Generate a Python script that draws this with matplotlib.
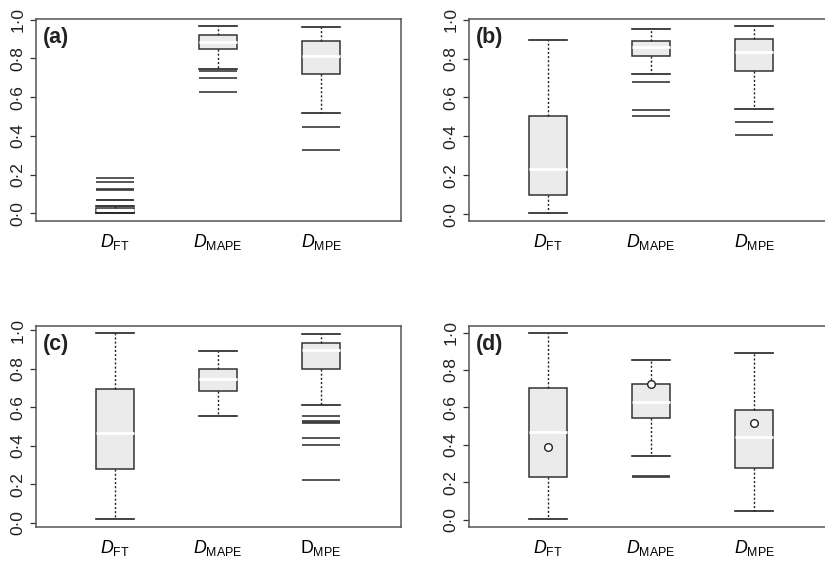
import matplotlib.pyplot as plt

plt.rcParams['font.family'] = ['Liberation Sans', 'DejaVu Sans']
plt.rcParams['mathtext.fontset'] = 'custom'
plt.rcParams['mathtext.rm'] = 'Liberation Sans'
plt.rcParams['mathtext.it'] = 'Liberation Sans:italic'

# x labels (subscripts) and y ticks
subs = ['FT', 'MAPE', 'MPE']
yticks = [0.0, 0.2, 0.4, 0.6, 0.8, 1.0]
ytick_labels = ['0\u00b70', '0\u00b72', '0\u00b74', '0\u00b76', '0\u00b78', '1\u00b70']
tags = ['(a)', '(b)', '(c)', '(d)']

# panel (a)
lo_a = [0.000, 0.745, 0.517]
q1_a = [0.003, 0.848, 0.719]
med_a = [0.016, 0.883, 0.814]
q3_a = [0.027, 0.919, 0.888]
hi_a = [0.035, 0.966, 0.962]
out_a = [[0.039, 0.066, 0.069, 0.118, 0.124, 0.159, 0.184],
         [0.628, 0.698, 0.736],
         [0.328, 0.445]]

# panel (b)
lo_b = [0.009, 0.722, 0.540]
q1_b = [0.099, 0.811, 0.738]
med_b = [0.232, 0.859, 0.832]
q3_b = [0.503, 0.890, 0.900]
hi_b = [0.894, 0.952, 0.967]
out_b = [[], [0.506, 0.535, 0.681], [0.408, 0.472]]

# panel (c)
lo_c = [0.021, 0.555, 0.612]
q1_c = [0.279, 0.683, 0.800]
med_c = [0.466, 0.747, 0.897]
q3_c = [0.693, 0.797, 0.936]
hi_c = [0.986, 0.893, 0.979]
out_c = [[], [], [0.223, 0.403, 0.439, 0.517, 0.523, 0.528, 0.554]]

# panel (d)
lo_d = [0.004, 0.339, 0.048]
q1_d = [0.226, 0.544, 0.275]
med_d = [0.467, 0.631, 0.444]
q3_d = [0.702, 0.726, 0.588]
hi_d = [0.998, 0.851, 0.888]
mean_d = [0.391, 0.725, 0.519]
out_d = [[], [0.227, 0.236], []]


def make_stats(lo, q1, med, q3, hi, out, mean=None):
    stats = []
    for i in range(len(med)):
        s = dict(whislo=lo[i], q1=q1[i], med=med[i], q3=q3[i],
                 whishi=hi[i], fliers=out[i])
        if mean is not None:
            s['mean'] = mean[i]
        stats.append(s)
    return stats


panels = [
    (make_stats(lo_a, q1_a, med_a, q3_a, hi_a, out_a), [0.0436, 0.6068, 0.4424, 0.3594], (-0.040, 1.0035)),
    (make_stats(lo_b, q1_b, med_b, q3_b, hi_b, out_b), [0.5685, 0.6068, 0.4424, 0.3594], (-0.034, 1.003)),
    (make_stats(lo_c, q1_c, med_c, q3_c, hi_c, out_c), [0.0436, 0.0623, 0.4424, 0.3577], (-0.021, 1.022)),
    (make_stats(lo_d, q1_d, med_d, q3_d, hi_d, out_d, mean_d), [0.5685, 0.0623, 0.4424, 0.3577], (-0.039, 1.035)),
]

fig = plt.figure(figsize=(8.25, 5.62), dpi=100)
edge = '#333333'

for k, (stats, rect, ylim) in enumerate(panels):
    ax = fig.add_axes(rect)
    ax.bxp(stats, positions=[1, 2, 3], widths=0.37, capwidths=0.37,
           patch_artist=True, showmeans=(k == 3),
           boxprops=dict(facecolor='#ebebeb', edgecolor=edge, linewidth=1.1),
           medianprops=dict(color='white', linewidth=2),
           whiskerprops=dict(color='#222222', linestyle=(0, (1.5, 1.5)), linewidth=1),
           capprops=dict(color='#222222', linewidth=1.2),
           flierprops=dict(marker='_', markersize=27, markeredgecolor='#3a3a3a',
                           markeredgewidth=1.2, linestyle='none'),
           meanprops=dict(marker='o', markerfacecolor='white',
                          markeredgecolor='#222222', markersize=5.5))
    ax.set_xlim(0.233, 3.775)
    ax.set_ylim(*ylim)
    ax.set_yticks(yticks)
    ax.set_yticklabels(ytick_labels, rotation=90, va='center')
    labels = [r'$\mathit{D}_{\mathrm{%s}}$' % s for s in subs]
    if k == 2:
        labels[2] = r'$\mathrm{D}_{\mathrm{MPE}}$'
    ax.set_xticks([1, 2, 3])
    ax.set_xticklabels(labels, fontsize=12.8)
    ax.tick_params(axis='x', length=0, pad=8)
    ax.tick_params(axis='y', length=4, width=0.9, color=edge, labelsize=12.5,
                   pad=3.5, labelcolor='#222222')
    for sp in ax.spines.values():
        sp.set_color('#555555')
        sp.set_linewidth(1.1)
    ax.text(0.02, 0.96, tags[k], transform=ax.transAxes, ha='left', va='top',
            fontsize=15.5, fontweight='bold', color='#222222')

fig.savefig('out.png', dpi=100)
